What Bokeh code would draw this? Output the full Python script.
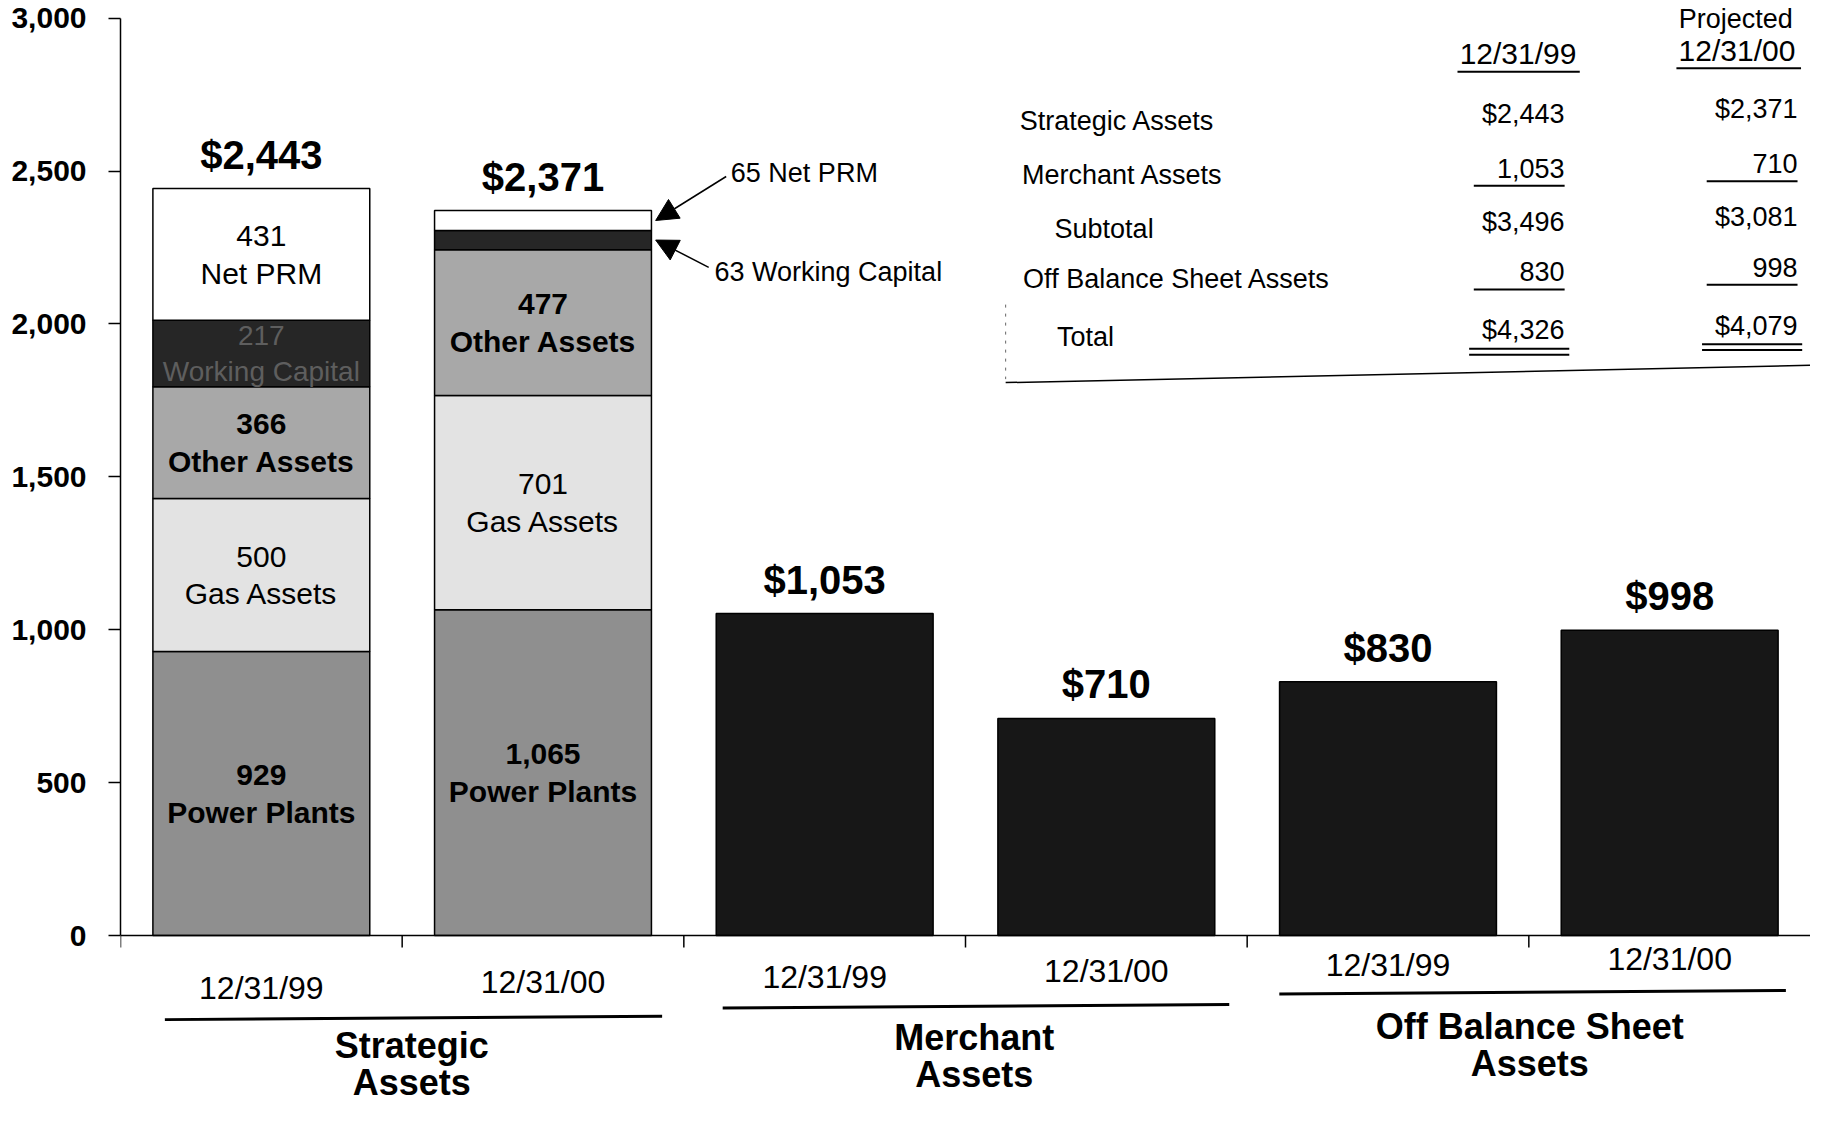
import numpy as np
from bokeh.plotting import figure
from bokeh.models import Range1d, LinearAxis, FixedTicker, NumeralTickFormatter, Arrow, NormalHead
from bokeh.core.properties import value
from bokeh.embed import file_html
from bokeh.resources import INLINE

# ---------------- data ----------------
bar_dates = ["12/31/99", "12/31/00", "12/31/99", "12/31/00", "12/31/99", "12/31/00"]
group_names = [["Strategic", "Assets"], ["Merchant", "Assets"], ["Off Balance Sheet", "Assets"]]

segment_names = ["Power Plants", "Gas Assets", "Other Assets", "Working Capital", "Net PRM"]
power_plants = [929, 1065]
gas_assets = [500, 701]
other_assets = [366, 477]
working_capital = [217, 63]
net_prm = [431, 65]
strategic_totals = [2443, 2371]
merchant_assets = [1053, 710]
off_balance_assets = [830, 998]

y_ticks = [0, 500, 1000, 1500, 2000, 2500, 3000]

table_header_top = "Projected"
table_columns = ["12/31/99", "12/31/00"]
table_rows = ["Strategic Assets", "Merchant Assets", "Subtotal", "Off Balance Sheet Assets", "Total"]
table_1999 = [2443, 1053, 3496, 830, 4326]
table_2000 = [2371, 710, 3081, 998, 4079]
table_dollar_rows = [True, False, True, False, True]

# ---------------- layout helpers (reference pixel -> data) ----------------
S = 1826 / 1568
BORDER_LEFT = 120
FRAME_LEFT_PAGE = BORDER_LEFT + 8
FRAME_W = 1810 - BORDER_LEFT
PX_PER_X = FRAME_W / 6.0
Y_TOP, Y_BOT = 3058, -556
UNITS_PER_PY = (Y_TOP - Y_BOT) / 1105


def dx(xs):
    return (xs * S - FRAME_LEFT_PAGE) / PX_PER_X


def dy(ys):
    return Y_TOP - (ys * S - 8) * UNITS_PER_PY


FONT = value("Liberation Sans")

p = figure(width=1810, height=1105, x_range=Range1d(0, 6), y_range=Range1d(Y_BOT, Y_TOP),
           output_backend="svg", toolbar_location=None,
           x_axis_location=None, y_axis_location=None,
           min_border_left=BORDER_LEFT, min_border_right=0, min_border_top=0, min_border_bottom=0)
p.outline_line_color = None
p.background_fill_color = "white"
p.border_fill_color = "white"
p.grid.visible = False

yax = LinearAxis(bounds=(0, 3000), ticker=FixedTicker(ticks=y_ticks),
                 formatter=NumeralTickFormatter(format="0,0"))
yax.axis_line_color = "black"
yax.axis_line_width = 1.5
yax.major_tick_out = 12
yax.major_tick_in = 0
yax.major_tick_line_width = 1.5
yax.minor_tick_line_color = None
yax.major_label_standoff = 22
yax.major_label_text_font = "Liberation Sans"
yax.major_label_text_font_style = "bold"
yax.major_label_text_font_size = "30px"
yax.major_label_text_color = "black"
p.add_layout(yax, "left")

xpos = np.arange(len(bar_dates)) + 0.5
BW = 0.77

# ---------------- stacked strategic bars ----------------
seg_values = np.array([power_plants, gas_assets, other_assets, working_capital, net_prm], dtype=float)
seg_colors = ["#8f8f8f", "#e3e3e3", "#a8a8a8", "#262626", "#ffffff"]
seg_label_colors = ["black", "black", "black", "#5e5e5e", "black"]
seg_label_styles = ["bold", "normal", "bold", "normal", "normal"]
seg_label_sizes = ["30px", "30px", "30px", "28px", "30px"]
bottoms = np.vstack([np.zeros(2), np.cumsum(seg_values, axis=0)[:-1]])
tops = np.cumsum(seg_values, axis=0)
sx = xpos[:2]
for i in range(len(segment_names)):
    p.vbar(x=sx, bottom=bottoms[i], top=tops[i], width=BW,
           fill_color=seg_colors[i], line_color="black", line_width=1.5)

# inside labels
for j in range(2):
    for i in range(len(segment_names)):
        if j == 1 and i >= 3:
            continue
        mid = (bottoms[i][j] + tops[i][j]) / 2
        p.text(x=[sx[j]], y=[mid], text=[f"{int(seg_values[i][j]):,}\n{segment_names[i]}"],
               text_align="center", text_baseline="middle", text_font=FONT,
               text_font_size=seg_label_sizes[i], text_font_style=seg_label_styles[i],
               text_color=seg_label_colors[i], text_line_height=1.15)

# ---------------- merchant / off balance bars ----------------
other_vals = merchant_assets + off_balance_assets
p.vbar(x=xpos[2:], bottom=0, top=other_vals, width=BW, fill_color="#171717",
       line_color="black", line_width=1.5)

# totals above bars
all_totals = strategic_totals + other_vals
p.text(x=xpos, y=all_totals, text=[f"${v:,}" for v in all_totals], text_align="center",
       text_baseline="bottom", y_offset=-12, text_font=FONT, text_font_style="bold",
       text_font_size="40px", text_color="black")

# external annotations for 2000 strategic bar
edge = sx[1] + BW / 2
prm_mid = (bottoms[4][1] + tops[4][1]) / 2
wc_mid = (bottoms[3][1] + tops[3][1]) / 2
p.add_layout(Arrow(end=NormalHead(size=22, fill_color="black", line_color="black"),
                   x_start=dx(630), y_start=dy(158), x_end=edge + 0.015, y_end=prm_mid,
                   line_width=1.5, line_color="black"))
p.add_layout(Arrow(end=NormalHead(size=22, fill_color="black", line_color="black"),
                   x_start=dx(615), y_start=dy(236), x_end=edge + 0.015, y_end=wc_mid,
                   line_width=1.5, line_color="black"))
p.text(x=[dx(634)], y=[dy(155)], text=[f"{net_prm[1]} {segment_names[4]}"], text_align="left",
       text_baseline="middle", text_font=FONT, text_font_size="27px", text_color="black")
p.text(x=[dx(620)], y=[dy(240)], text=[f"{working_capital[1]} {segment_names[3]}"], text_align="left",
       text_baseline="middle", text_font=FONT, text_font_size="27px", text_color="black")

# ---------------- x baseline, ticks, date labels, group labels ----------------
p.segment(x0=[0], y0=[0], x1=[6], y1=[0], line_color="black", line_width=1.5)
tick_x = np.arange(0, 6)
p.segment(x0=tick_x, y0=np.zeros(6), x1=tick_x, y1=np.full(6, -12 * UNITS_PER_PY),
          line_color="black", line_width=1.5)

date_y_ref = [855, 850, 845, 840, 835, 830]
p.text(x=xpos, y=[dy(v) for v in date_y_ref], text=bar_dates, text_align="center",
       text_baseline="middle", text_font=FONT, text_font_size="32px", text_color="black")

group_line_ref = [(148, 575, 882), (627, 1062, 872), (1105, 1540, 860)]
group_text_ref = [(360, 904), (843, 897), (1320, 888)]
for g in range(3):
    x0, x1, yl = group_line_ref[g]
    p.segment(x0=[dx(x0)], y0=[dy(yl)], x1=[dx(x1)], y1=[dy(yl - 3)], line_color="black", line_width=3)
    gx, gy = group_text_ref[g]
    for k, line in enumerate(group_names[g]):
        p.text(x=[dx(gx)], y=[dy(gy + 32 * k)], text=[line], text_align="center",
               text_baseline="middle", text_font=FONT, text_font_style="bold",
               text_font_size="36px", text_color="black")

# ---------------- summary table ----------------
p.text(x=[dx(1497)], y=[dy(23)], text=[table_header_top], text_align="center", text_baseline="middle",
       text_font=FONT, text_font_size="27px", text_color="black")
hdr_ref = [(1310, 52, 1258, 1363, 68), (1498, 50, 1446, 1553, 65)]
for c in range(2):
    hx, hy, ux0, ux1, uy = hdr_ref[c]
    p.text(x=[dx(hx)], y=[dy(hy)], text=[table_columns[c]], text_align="center", text_baseline="middle",
           text_font=FONT, text_font_size="30px", text_color="black")
    p.segment(x0=[dx(ux0)], y0=[dy(uy)], x1=[dx(ux1)], y1=[dy(uy)], line_color="black", line_width=2)

row_y_ref = [110, 157, 203, 246, 296]
label_x_ref = [882, 884, 912, 885, 914]
col_right_ref = [1350, 1550]
col_shift_ref = [-6, -10]
for r in range(len(table_rows)):
    p.text(x=[dx(label_x_ref[r])], y=[dy(row_y_ref[r])], text=[table_rows[r]], text_align="left",
           text_baseline="middle", text_font=FONT, text_font_size="27px", text_color="black")
    for c, vals in enumerate([table_1999, table_2000]):
        s = f"${vals[r]:,}" if table_dollar_rows[r] else f"{vals[r]:,}"
        p.text(x=[dx(col_right_ref[c])], y=[dy(row_y_ref[r] + col_shift_ref[c])], text=[s],
               text_align="right", text_baseline="middle", text_font=FONT, text_font_size="27px",
               text_color="black")
    if table_rows[r] in ("Merchant Assets", "Off Balance Sheet Assets"):
        for c in range(2):
            yy = row_y_ref[r] + col_shift_ref[c] + 15
            p.segment(x0=[dx(col_right_ref[c] - 78)], y0=[dy(yy)], x1=[dx(col_right_ref[c])], y1=[dy(yy)],
                      line_color="black", line_width=2)
    if table_rows[r] == "Total":
        for c in range(2):
            for off in (16, 21):
                yy = row_y_ref[r] + col_shift_ref[c] + off
                p.segment(x0=[dx(col_right_ref[c] - 82)], y0=[dy(yy)], x1=[dx(col_right_ref[c] + 4)],
                          y1=[dy(yy)], line_color="black", line_width=2)

p.segment(x0=[dx(870)], y0=[dy(335)], x1=[dx(1568)], y1=[dy(320)], line_color="black", line_width=1.5)
p.segment(x0=[dx(870)], y0=[dy(268)], x1=[dx(870)], y1=[dy(332)], line_color="#666666",
          line_width=1, line_dash="3 6")

open("out.html", "w").write(file_html(p, INLINE))
